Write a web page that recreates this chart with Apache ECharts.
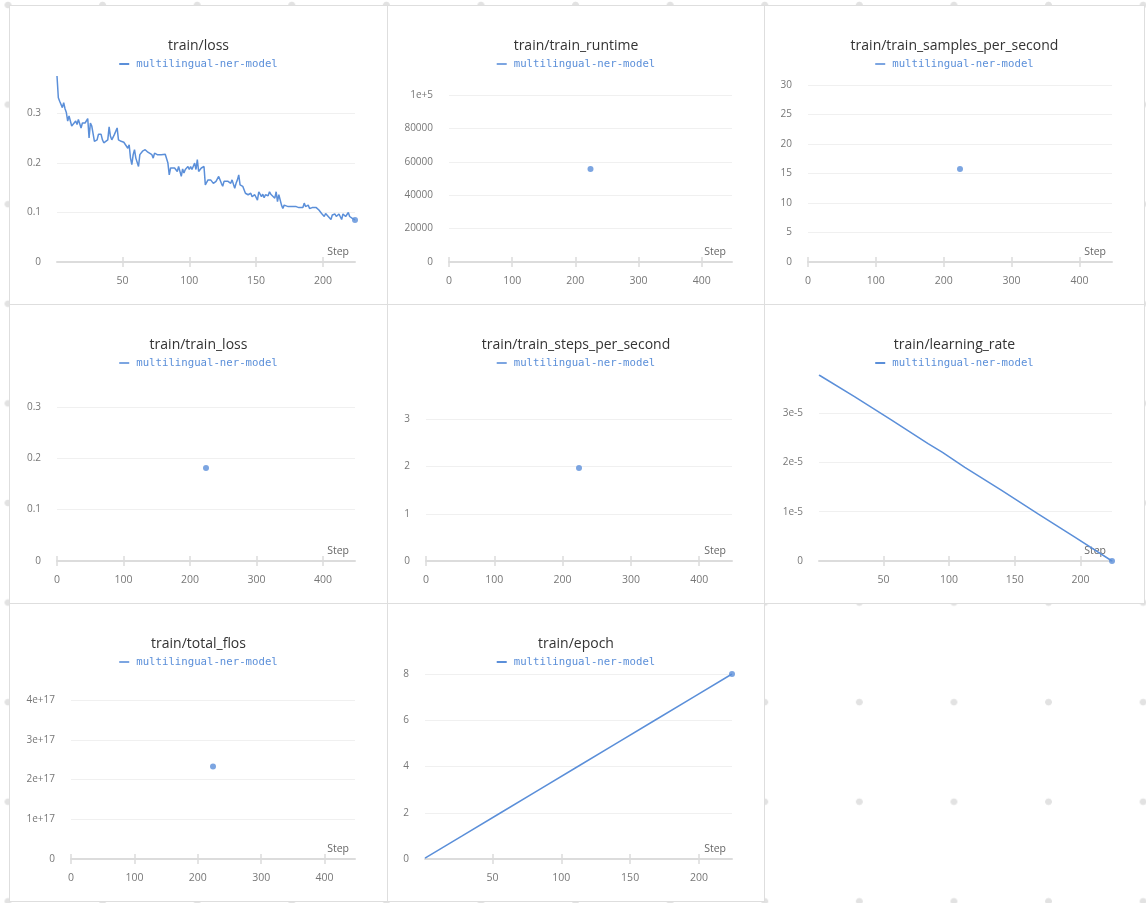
<!DOCTYPE html>
<html>
<head>
<meta charset="utf-8">
<script src="https://cdn.jsdelivr.net/npm/echarts@6/dist/echarts.min.js"></script>
<style>
body{
	margin:0;width:1146px;height:903px;position:relative;overflow:hidden;
	background-color:#fff;
	background-image:radial-gradient(circle,#e2e2e2 0,#e2e2e2 3px,rgba(255,255,255,0) 3.7px);
	background-size:94.6px 99.6px;
	background-position:-39.3px -44.8px;
}
.panel{position:absolute;box-sizing:border-box;border:1px solid #dedede;background:#fff;}
</style>
</head>
<body>
<div class="panel" id="chart_loss" style="left:9px;top:5px;width:379px;height:300px"></div>
<div class="panel" id="chart_runtime" style="left:387px;top:5px;width:378px;height:300px"></div>
<div class="panel" id="chart_samples" style="left:764px;top:5px;width:381px;height:300px"></div>
<div class="panel" id="chart_train_loss" style="left:9px;top:304px;width:379px;height:300px"></div>
<div class="panel" id="chart_steps" style="left:387px;top:304px;width:378px;height:300px"></div>
<div class="panel" id="chart_lr" style="left:764px;top:304px;width:381px;height:300px"></div>
<div class="panel" id="chart_flos" style="left:9px;top:603px;width:379px;height:299px"></div>
<div class="panel" id="chart_epoch" style="left:387px;top:603px;width:378px;height:299px"></div>
<script>
var runName = 'multilingual-ner-model';

// train/loss, logged (almost) every step
var lossSteps = [1,2,3,4,5,6,7,8,9,10,11,12,13,15,16,17,19,20,21,22,24,25,26,27,28,29,30,31,32,34,35,36,37,39,40,41,42,43,44,46,47,49,50,51,52,54,55,56,57,58,59,60,62,63,64,65,67,69,70,72,73,74,76,77,79,80,82,84,85,86,87,89,90,91,92,94,95,96,97,99,100,101,102,104,105,106,107,109,110,111,112,114,115,116,118,119,120,121,122,124,125,126,127,129,130,131,132,134,135,136,137,138,140,141,142,144,145,146,147,149,150,151,152,154,155,156,157,159,160,161,162,164,165,166,167,169,170,171,172,174,175,177,180,182,185,186,187,189,190,191,192,195,196,197,199,200,201,202,204,205,206,207,209,210,211,212,214,215,216,217,219,220,221,222,224];
var lossValues = [0.376,0.332,0.325,0.322,0.312,0.322,0.310,0.302,0.285,0.295,0.295,0.275,0.271,0.285,0.278,0.288,0.271,0.281,0.285,0.281,0.290,0.251,0.281,0.275,0.271,0.244,0.242,0.247,0.258,0.258,0.247,0.241,0.237,0.247,0.273,0.254,0.247,0.251,0.258,0.271,0.247,0.244,0.244,0.242,0.244,0.230,0.237,0.210,0.197,0.217,0.227,0.210,0.193,0.217,0.214,0.224,0.227,0.222,0.220,0.217,0.210,0.220,0.217,0.220,0.217,0.219,0.218,0.200,0.176,0.190,0.189,0.190,0.193,0.183,0.193,0.173,0.188,0.180,0.187,0.193,0.187,0.193,0.187,0.200,0.187,0.207,0.183,0.190,0.193,0.193,0.156,0.166,0.163,0.166,0.159,0.163,0.163,0.166,0.173,0.159,0.153,0.163,0.166,0.163,0.163,0.159,0.166,0.149,0.159,0.166,0.176,0.156,0.153,0.146,0.139,0.136,0.132,0.139,0.132,0.136,0.136,0.125,0.142,0.132,0.137,0.130,0.136,0.134,0.142,0.137,0.139,0.129,0.142,0.122,0.136,0.115,0.108,0.115,0.119,0.112,0.112,0.112,0.112,0.110,0.110,0.119,0.112,0.115,0.108,0.112,0.110,0.110,0.109,0.105,0.098,0.095,0.092,0.098,0.092,0.092,0.086,0.095,0.097,0.092,0.092,0.097,0.086,0.097,0.094,0.092,0.100,0.092,0.095,0.088,0.085];

var lrSteps = [1,28,56,84,95,112,140,168,196,224];
var lrValues = [3.77e-5,3.33e-5,2.86e-5,2.38e-5,2.2e-5,1.9e-5,1.43e-5,0.95e-5,0.48e-5,0];

var epochSteps = [1,28,56,84,112,140,168,196,224];
var epochValues = [0.04,1,2,3,4,5,6,7,8];

// summary values, logged once at the last step
var finalStep = 224;
var trainRuntime = 55700;
var samplesPerSecond = 15.75;
var trainLoss = 0.181;
var stepsPerSecond = 1.97;
var totalFlos = 2.33e17;

var stepTicksLine = [50,100,150,200];
var stepTicksPoint = [0,100,200,300,400];

var blue = '#5b8fd9';
var labelGrey = '#777';
var lineGrey = '#dcdcdc';

function fmt(v){
	if(v===0) return '0';
	var a = Math.abs(v);
	if(a>=1e5 || a<1e-3) return v.toExponential();
	return String(v);
}

function pairs(xs, ys){
	var out = [];
	for(var i=0;i<xs.length;i++) out.push([xs[i], ys[i]]);
	return out;
}

// cfg: title, left, line (pairs or null), point ([x,y]), xMin, xMax, yMax, ticks, showTop
function makeOption(cfg){
	var xBase = {
		type:'value', min:cfg.xMin, max:cfg.xMax, gridIndex:0, position:'bottom',
		splitLine:{show:false}
	};
	var series = [];
	if(cfg.line){
		series.push({
			name:runName, type:'line', data:cfg.line, showSymbol:false,
			lineStyle:{color:blue, width:1.5}, itemStyle:{color:blue}, animation:false
		});
	}
	series.push({
		name:runName, type:'scatter', data:[cfg.point], symbolSize:6,
		itemStyle:{color:blue}, animation:false
	});
	return {
		animation:false,
		title:{
			text:cfg.title, left:'center', top:31, padding:0,
			textStyle:{fontFamily:'Open Sans', fontSize:14, fontWeight:'normal', color:'#333', lineHeight:18}
		},
		legend:{
			data:[runName], left:'center', top:51, padding:0,
			icon:'rect', itemWidth:10, itemHeight:2, itemGap:0,
			itemStyle:{color:blue},
			textStyle:{fontFamily:'DejaVu Sans Mono', fontSize:10.7, color:blue, padding:[0,0,0,2], lineHeight:14}
		},
		grid:{left:cfg.left, right:32, top:70, bottom:42},
		xAxis:[
			Object.assign({}, xBase, {
				name:'Step', nameLocation:'end', nameGap:-6,
				nameTextStyle:{color:'#666', fontFamily:'Open Sans', fontSize:10.5, align:'right', verticalAlign:'bottom', padding:[0,0,4,0]},
				axisLine:{show:true, lineStyle:{color:lineGrey, width:2}},
				axisTick:{show:true, length:5, customValues:cfg.ticks, lineStyle:{color:lineGrey, width:1.5}},
				axisLabel:{customValues:cfg.ticks, color:labelGrey, fontFamily:'Open Sans', fontSize:10.5, margin:14, formatter:fmt}
			}),
			Object.assign({}, xBase, {
				axisLine:{show:false},
				axisTick:{show:true, inside:true, length:5, customValues:cfg.ticks, lineStyle:{color:lineGrey, width:1.5}},
				axisLabel:{show:false}
			})
		],
		yAxis:{
			type:'value', min:0, max:cfg.yMax,
			axisLine:{show:false}, axisTick:{show:false},
			axisLabel:{color:labelGrey, fontFamily:'Open Sans', fontSize:10, margin:16, showMaxLabel:cfg.showTop, formatter:fmt},
			splitLine:{show:true, showMaxLine:cfg.showTop, lineStyle:{color:'#f0f0f0', width:1}}
		},
		series:series
	};
}

function lineChart(id, title, left, xs, ys, showTop){
	var chart = echarts.init(document.getElementById(id));
	chart.setOption(makeOption({
		title:title, left:left, line:pairs(xs, ys),
		point:[xs[xs.length-1], ys[ys.length-1]],
		xMin:Math.min.apply(null, xs), xMax:Math.max.apply(null, xs),
		yMax:showTop ? Math.max.apply(null, ys) : 'dataMax',
		ticks:stepTicksLine, showTop:showTop
	}));
	return chart;
}

function pointChart(id, title, left, value){
	var chart = echarts.init(document.getElementById(id));
	chart.setOption(makeOption({
		title:title, left:left, line:null, point:[finalStep, value],
		xMin:0, xMax:finalStep*2, yMax:value*2,
		ticks:stepTicksPoint, showTop:false
	}));
	return chart;
}

lineChart('chart_loss', 'train/loss', 47, lossSteps, lossValues, false);
pointChart('chart_runtime', 'train/train_runtime', 61, trainRuntime);
pointChart('chart_samples', 'train/train_samples_per_second', 43, samplesPerSecond);
pointChart('chart_train_loss', 'train/train_loss', 47, trainLoss);
pointChart('chart_steps', 'train/train_steps_per_second', 38, stepsPerSecond);
lineChart('chart_lr', 'train/learning_rate', 54, lrSteps, lrValues, false);
pointChart('chart_flos', 'train/total_flos', 61, totalFlos);
lineChart('chart_epoch', 'train/epoch', 37, epochSteps, epochValues, true);
</script>
</body>
</html>
